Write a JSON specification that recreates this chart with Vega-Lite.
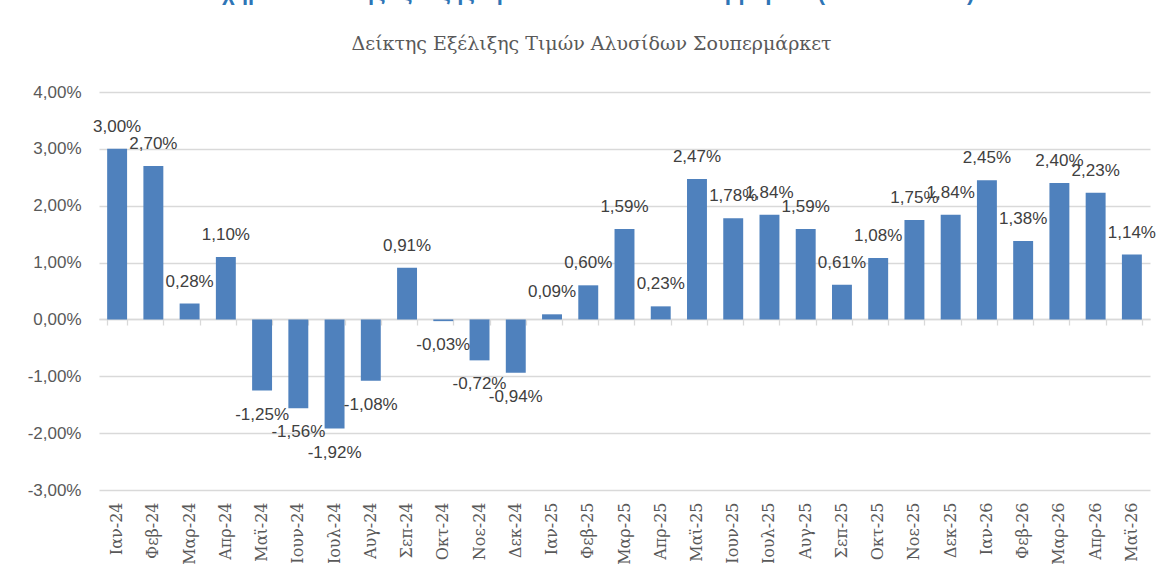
{
  "$schema": "https://vega.github.io/schema/vega-lite/v6.json",
  "width": 1051,
  "height": 398,
  "autosize": {"type": "none"},
  "padding": {"left": 99, "top": 92, "right": 18, "bottom": 85},
  "background": "white",
  "title": {
    "text": "Σχήμα 1: Δείκτης εξέλιξης τιμών Αλυσίδων Σουπερμάρκετ (1/2024-5/2026)",
    "subtitle": "Δείκτης Εξέλιξης Τιμών Αλυσίδων Σουπερμάρκετ",
    "anchor": "middle",
    "frame": "bounds",
    "font": "Liberation Sans",
    "fontSize": 22,
    "fontWeight": "bold",
    "color": "#2E75B6",
    "subtitleFont": "DejaVu Serif",
    "subtitleFontSize": 19,
    "subtitleColor": "#595959",
    "subtitlePadding": 30,
    "offset": 28
  },
  "data": {
    "values": [
      {"m": "Ιαν-24", "v": 0.0300},
      {"m": "Φεβ-24", "v": 0.0270},
      {"m": "Μαρ-24", "v": 0.0028},
      {"m": "Απρ-24", "v": 0.0110},
      {"m": "Μαϊ-24", "v": -0.0125},
      {"m": "Ιουν-24", "v": -0.0156},
      {"m": "Ιουλ-24", "v": -0.0192},
      {"m": "Αυγ-24", "v": -0.0108},
      {"m": "Σεπ-24", "v": 0.0091},
      {"m": "Οκτ-24", "v": -0.0003},
      {"m": "Νοε-24", "v": -0.0072},
      {"m": "Δεκ-24", "v": -0.0094},
      {"m": "Ιαν-25", "v": 0.0009},
      {"m": "Φεβ-25", "v": 0.0060},
      {"m": "Μαρ-25", "v": 0.0159},
      {"m": "Απρ-25", "v": 0.0023},
      {"m": "Μαϊ-25", "v": 0.0247},
      {"m": "Ιουν-25", "v": 0.0178},
      {"m": "Ιουλ-25", "v": 0.0184},
      {"m": "Αυγ-25", "v": 0.0159},
      {"m": "Σεπ-25", "v": 0.0061},
      {"m": "Οκτ-25", "v": 0.0108},
      {"m": "Νοε-25", "v": 0.0175},
      {"m": "Δεκ-25", "v": 0.0184},
      {"m": "Ιαν-26", "v": 0.0245},
      {"m": "Φεβ-26", "v": 0.0138},
      {"m": "Μαρ-26", "v": 0.0240},
      {"m": "Απρ-26", "v": 0.0223},
      {"m": "Μαϊ-26", "v": 0.0114}
    ]
  },
  "layer": [
    {
      "mark": {"type": "bar", "color": "#4F81BD"},
      "encoding": {
        "x": {
          "field": "m",
          "type": "ordinal",
          "sort": null,
          "scale": {"paddingInner": 0.45, "paddingOuter": 0.225},
          "axis": {
            "orient": "bottom",
            "title": null,
            "labelAngle": -90,
            "labelFont": "DejaVu Serif",
            "labelFontSize": 16,
            "labelColor": "#595959",
            "labelPadding": 12,
            "domain": false,
            "ticks": false,
            "grid": false
          }
        },
        "y": {
          "field": "v",
          "type": "quantitative",
          "scale": {"domain": [-0.03, 0.04], "nice": false, "zero": false},
          "axis": {
            "title": null,
            "values": [-0.03, -0.02, -0.01, 0, 0.01, 0.02, 0.03, 0.04],
            "format": ".2%",
            "labelFont": "Liberation Sans",
            "labelFontSize": 17,
            "labelColor": "#595959",
            "labelPadding": 18,
            "domain": false,
            "ticks": false,
            "grid": true,
            "gridColor": "#D9D9D9",
            "gridWidth": 1.3
          }
        }
      }
    },
    {
      "transform": [{"filter": "datum.v >= 0"}],
      "mark": {"type": "text", "baseline": "middle", "dy": -22, "font": "Liberation Sans", "fontSize": 17, "color": "#404040"},
      "encoding": {
        "x": {
          "field": "m",
          "type": "ordinal",
          "sort": null,
          "axis": {
            "orient": "bottom",
            "offset": -171,
            "title": null,
            "labels": false,
            "domain": true,
            "domainColor": "#D9D9D9",
            "domainWidth": 1.3,
            "ticks": true,
            "tickBand": "extent",
            "tickSize": 6,
            "tickColor": "#D9D9D9",
            "tickWidth": 1.3,
            "grid": false
          }
        },
        "y": {"field": "v", "type": "quantitative"},
        "text": {"field": "v", "type": "quantitative", "format": ".2%"}
      }
    },
    {
      "transform": [{"filter": "datum.v < 0"}],
      "mark": {"type": "text", "baseline": "middle", "dy": 24, "font": "Liberation Sans", "fontSize": 17, "color": "#404040"},
      "encoding": {
        "x": {"field": "m", "type": "ordinal", "sort": null, "axis": null},
        "y": {"field": "v", "type": "quantitative"},
        "text": {"field": "v", "type": "quantitative", "format": ".2%"}
      }
    }
  ],
  "resolve": {"axis": {"x": "independent"}},
  "config": {
    "locale": {
      "number": {
        "decimal": ",",
        "thousands": ".",
        "grouping": [3],
        "currency": ["", " €"],
        "minus": "-",
        "percent": "%"
      }
    },
    "view": {"stroke": null}
  }
}
